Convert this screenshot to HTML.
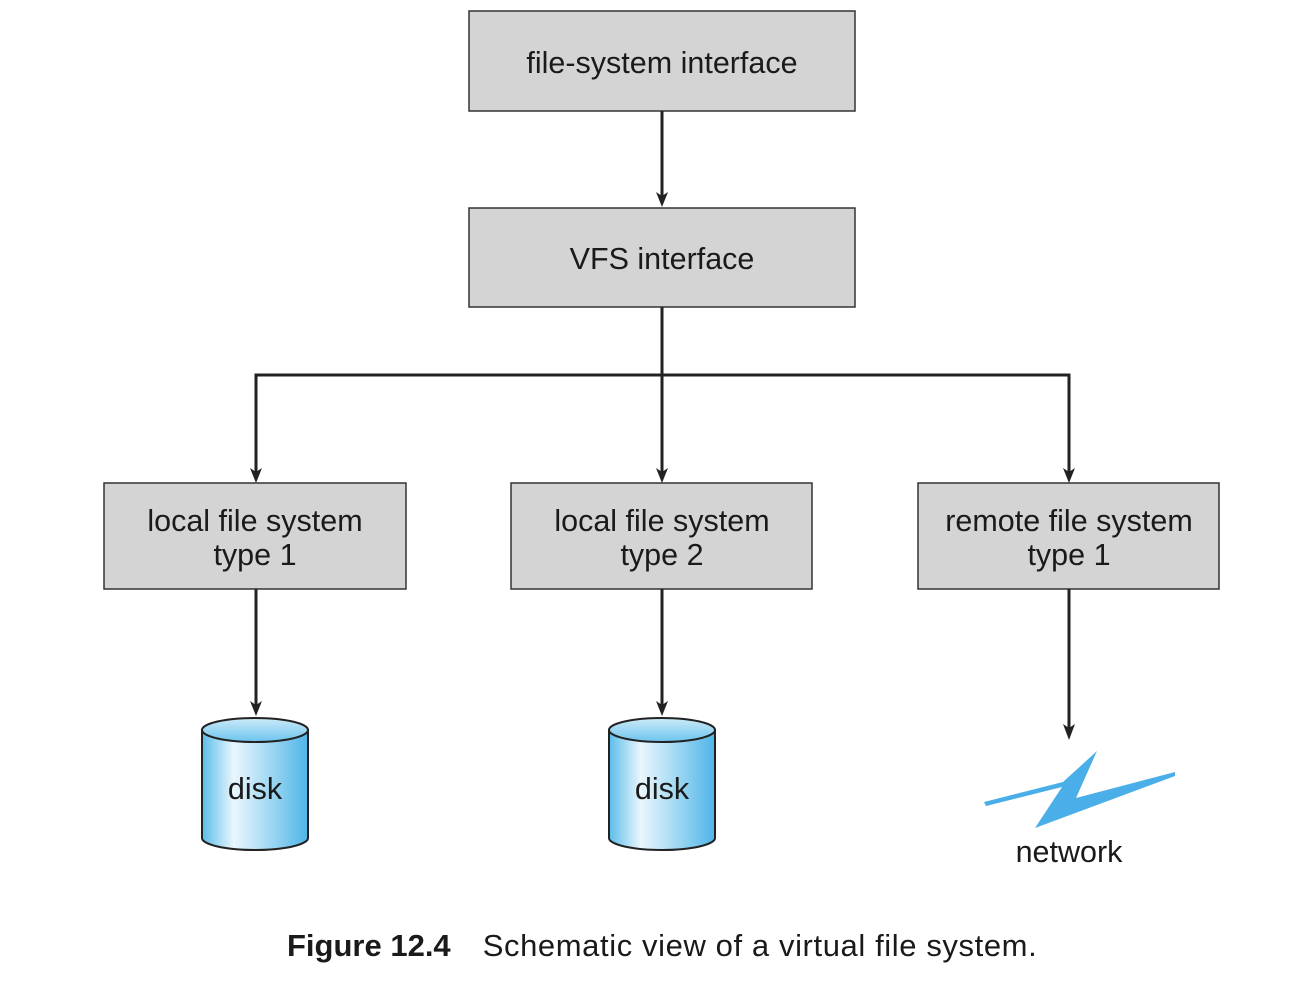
<!DOCTYPE html>
<html><head><style>body{margin:0;background:#fff}svg{display:block}</style></head><body>
<svg width="1308" height="982" viewBox="0 0 1308 982" xmlns="http://www.w3.org/2000/svg" font-family="Liberation Sans, sans-serif">
<defs>
<linearGradient id="g" x1="0" x2="1" y1="0" y2="0">
<stop offset="0" stop-color="#5bbde9"/><stop offset="0.3" stop-color="#eaf6fd"/><stop offset="0.6" stop-color="#a9dcf4"/><stop offset="1" stop-color="#4fb5e8"/></linearGradient>
<linearGradient id="t" x1="0" x2="0" y1="0" y2="1"><stop offset="0" stop-color="#cdeaf8"/><stop offset="1" stop-color="#6cc4ee"/></linearGradient>
</defs>
<g fill="#d4d4d5" stroke="#333" stroke-width="1.5">
<rect x="469" y="11" width="386" height="100"/>
<rect x="469" y="208" width="386" height="99"/>
<rect x="104" y="483" width="302" height="106"/>
<rect x="511" y="483" width="301" height="106"/>
<rect x="918" y="483" width="301" height="106"/>
</g>
<g stroke="#222" stroke-width="3" fill="none">
<line x1="662" y1="111" x2="662" y2="196"/>
<line x1="662" y1="307" x2="662" y2="472"/>
<polyline points="256,472 256,375 1069,375 1069,472"/>
<line x1="256" y1="589" x2="256" y2="705"/>
<line x1="662" y1="589" x2="662" y2="705"/>
<line x1="1069" y1="589" x2="1069" y2="728"/>
</g>
<g fill="#222">
<path d="M656,192 L662,207 L668,192 L662,196 Z"/>
<path d="M250,468 L256,483 L262,468 L256,472 Z"/>
<path d="M656,468 L662,483 L668,468 L662,472 Z"/>
<path d="M1063,468 L1069,483 L1075,468 L1069,472 Z"/>
<path d="M250,701 L256,716 L262,701 L256,705 Z"/>
<path d="M656,701 L662,716 L668,701 L662,705 Z"/>
<path d="M1063,724 L1069,740 L1075,724 L1069,728 Z"/>
</g>
<g stroke="#222" stroke-width="2">
<path d="M202,730 V838 A53,12 0 0 0 308,838 V730 Z" fill="url(#g)"/>
<ellipse cx="255" cy="730" rx="53" ry="12" fill="url(#t)"/>
<path d="M609,730 V838 A53,12 0 0 0 715,838 V730 Z" fill="url(#g)"/>
<ellipse cx="662" cy="730" rx="53" ry="12" fill="url(#t)"/>
</g>
<polygon points="984,802 1063,782 1097,751 1076,798 1175,772 1175,776 1035,828 1062,787 986,806" fill="#4aaee8"/>
<g font-size="30.5" fill="#1a1a1a" text-anchor="middle">
<text x="662" y="73">file-system interface</text>
<text x="662" y="269">VFS interface</text>
<text x="255" y="531">local file system</text><text x="255" y="565">type 1</text>
<text x="662" y="531">local file system</text><text x="662" y="565">type 2</text>
<text x="1069" y="531">remote file system</text><text x="1069" y="565">type 1</text>
<text x="255" y="799">disk</text>
<text x="662" y="799">disk</text>
<text x="1069" y="862">network</text>
</g>
<text x="287" y="956" font-size="31" fill="#1a1a1a"><tspan font-weight="bold">Figure 12.4</tspan><tspan dx="32" letter-spacing="0.6">Schematic view of a virtual file system.</tspan></text>
</svg>
</body></html>
